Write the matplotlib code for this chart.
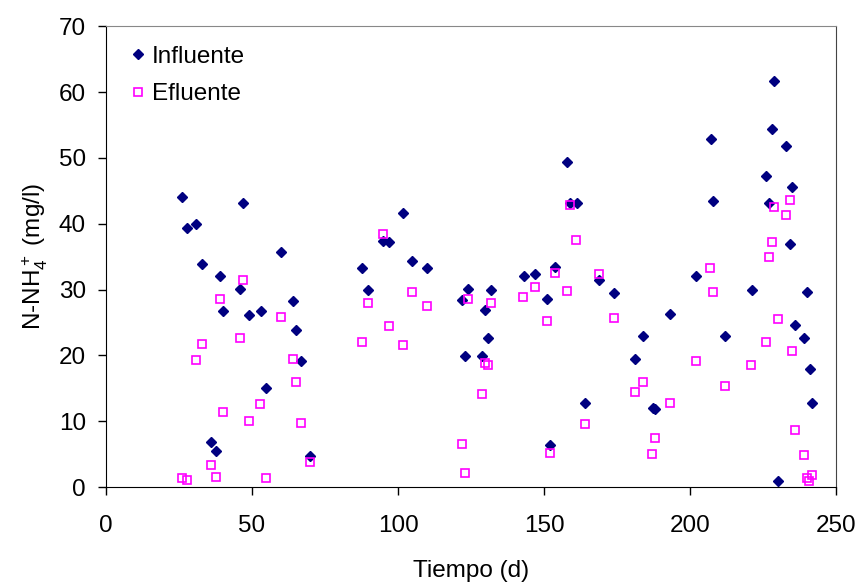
import matplotlib
matplotlib.use("Agg")
import matplotlib.pyplot as plt

plt.rcParams['font.family'] = ['Liberation Sans', 'DejaVu Sans']
plt.rcParams['mathtext.default'] = 'regular'

# Influente (day, mg/l)
inf_t = [25.9, 27.8, 30.9, 32.9, 35.9, 37.8, 38.9, 40.0, 45.9, 47.0, 49.0, 53.0,
         54.8, 59.9, 63.9, 64.9, 66.9, 69.9, 87.6, 89.8, 94.7, 97.0, 101.8, 104.8,
         109.9, 122.0, 122.9, 123.9, 128.9, 129.9, 130.9, 132.0, 143.0, 146.9, 151.0,
         152.0, 153.8, 158.0, 159.0, 161.3, 164.0, 169.0, 174.1, 181.0, 184.0, 187.2,
         188.1, 193.1, 202.2, 207.1, 208.0, 212.1, 221.1, 226.1, 227.0, 228.0, 228.9,
         230.1, 233.0, 234.1, 235.0, 235.9, 238.9, 240.0, 241.1, 241.9]
inf_c = [44.1, 39.4, 40.0, 33.9, 6.8, 5.4, 32.0, 26.8, 30.1, 43.2, 26.1, 26.8,
         15.1, 35.7, 28.3, 23.9, 19.2, 4.7, 33.3, 30.0, 37.3, 37.2, 41.6, 34.4,
         33.3, 28.4, 19.9, 30.1, 19.9, 26.9, 22.7, 29.9, 32.0, 32.4, 28.5,
         6.4, 33.4, 49.3, 43.1, 43.1, 12.7, 31.4, 29.4, 19.5, 22.9, 12.0,
         11.9, 26.3, 32.0, 52.8, 43.5, 22.9, 30.0, 47.3, 43.2, 54.4, 61.7,
         0.9, 51.8, 36.9, 45.5, 24.6, 22.7, 29.6, 18.0, 12.8]

# Efluente (day, mg/l)
ef_t = [25.9, 27.8, 30.9, 32.9, 35.9, 37.8, 38.9, 40.0, 45.9, 46.9, 49.0, 52.9,
        54.8, 59.9, 63.9, 64.9, 66.9, 70.0, 87.5, 89.8, 94.7, 96.9, 101.7, 104.7,
        109.9, 121.8, 122.8, 123.8, 128.9, 129.7, 130.9, 132.0, 142.9, 146.9, 150.9,
        152.0, 153.9, 157.9, 159.0, 160.9, 164.0, 169.0, 174.1, 181.1, 184.0, 187.1,
        188.1, 193.0, 202.1, 207.0, 208.0, 212.0, 220.9, 226.0, 227.0, 228.0, 228.9,
        230.0, 233.0, 234.1, 234.9, 235.9, 238.9, 240.0, 240.9, 241.9]
ef_c = [1.3, 1.0, 19.3, 21.8, 3.4, 1.5, 28.5, 11.4, 22.7, 31.5, 10.0, 12.6,
        1.3, 25.9, 19.4, 15.9, 9.7, 3.85, 22.1, 28.0, 38.5, 24.4, 21.5, 29.6,
        27.5, 6.5, 2.2, 28.5, 14.1, 18.9, 18.5, 28.0, 28.9, 30.4, 25.2,
        5.2, 32.5, 29.7, 42.9, 37.5, 9.6, 32.4, 25.6, 14.5, 15.9, 5.0,
        7.5, 12.8, 19.2, 33.2, 29.6, 15.3, 18.6, 22.1, 35.0, 37.2, 42.5,
        25.5, 41.3, 43.6, 20.6, 8.7, 4.9, 1.3, 0.9, 1.8]

fig = plt.figure(figsize=(8.57, 5.82), dpi=100)
ax = fig.add_axes([0.1237, 0.1632, 0.8518, 0.7918])

ax.plot(inf_t, inf_c, 'D', color='#000080', markersize=5.0, linestyle='none',
        label='Influente', zorder=3)
ax.plot(ef_t, ef_c, 's', markerfacecolor='none', markeredgecolor='#ff00ff',
        markeredgewidth=1.2, markersize=5.8, linestyle='none', label='Efluente', zorder=4)

ax.set_xlim(0, 250)
ax.set_ylim(0, 70)
ax.set_xticks(range(0, 251, 50))
ax.set_yticks(range(0, 71, 10))
ax.tick_params(direction='out', length=5.5, width=1, labelsize=17.5, colors='black')
ax.tick_params(axis='x', pad=15)
ax.tick_params(axis='y', pad=9)

ax.spines['top'].set_color('#888888')
ax.spines['right'].set_color('#444444')

ax.set_xlabel('Tiempo (d)', fontsize=17.5, labelpad=16)
ax.set_ylabel('N-NH$_4^+$ (mg/l)', fontsize=17.5, labelpad=6)

ax.legend(loc='upper left', frameon=False, fontsize=17.5, handletextpad=0.0,
          handlelength=1.2, borderaxespad=0.3, labelspacing=0.62,
          bbox_to_anchor=(0.0, 0.994))

fig.savefig('out.png', dpi=100)
